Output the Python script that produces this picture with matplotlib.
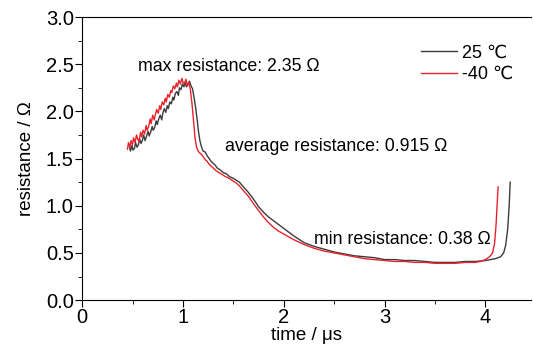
import matplotlib
matplotlib.use("Agg")
import matplotlib.pyplot as plt
from matplotlib.ticker import MultipleLocator

plt.rcParams['font.family'] = ['Liberation Sans', 'DejaVu Sans']

# 25 degC trace
t_25 = [0.47, 0.48, 0.495, 0.505, 0.52, 0.53, 0.545, 0.56, 0.57, 0.585, 0.60, 0.61, 0.625,
        0.64, 0.655, 0.665, 0.68, 0.695, 0.705, 0.72, 0.735, 0.745, 0.76, 0.775, 0.79, 0.80,
        0.815, 0.83, 0.845, 0.855, 0.87, 0.885, 0.90, 0.91, 0.925, 0.94, 0.955, 0.965, 0.98,
        0.995, 1.01, 1.02, 1.035, 1.05, 1.065, 1.08, 1.095, 1.11, 1.125, 1.14, 1.155, 1.17,
        1.185, 1.20, 1.22, 1.24, 1.26, 1.28, 1.30, 1.32, 1.34, 1.37, 1.40, 1.43, 1.46, 1.50,
        1.53, 1.56, 1.60, 1.65, 1.70, 1.75, 1.80, 1.85, 1.90, 1.95, 2.00, 2.05, 2.10, 2.20,
        2.30, 2.40, 2.50, 2.60, 2.65, 2.70, 2.80, 2.90, 2.95, 3.00, 3.10, 3.20, 3.30, 3.40,
        3.50, 3.60, 3.70, 3.80, 3.90, 4.00, 4.05, 4.10, 4.15, 4.18, 4.20, 4.22, 4.235, 4.245]
r_25 = [1.62, 1.58, 1.64, 1.59, 1.61, 1.67, 1.62, 1.65, 1.71, 1.66, 1.70, 1.75, 1.69, 1.74,
        1.79, 1.74, 1.78, 1.84, 1.80, 1.83, 1.90, 1.86, 1.92, 1.96, 1.91, 1.98, 2.03, 1.99,
        2.06, 2.03, 2.10, 2.08, 2.15, 2.12, 2.19, 2.21, 2.17, 2.25, 2.23, 2.29, 2.26, 2.31,
        2.26, 2.29, 2.32, 2.27, 2.24, 2.15, 2.05, 1.92, 1.78, 1.68, 1.62, 1.58, 1.57, 1.53,
        1.50, 1.47, 1.45, 1.43, 1.40, 1.38, 1.35, 1.34, 1.31, 1.29, 1.27, 1.25, 1.20, 1.14,
        1.07, 0.99, 0.93, 0.88, 0.84, 0.80, 0.76, 0.72, 0.68, 0.61, 0.57, 0.54, 0.51, 0.49,
        0.48, 0.47, 0.46, 0.45, 0.44, 0.43, 0.43, 0.42, 0.42, 0.41, 0.40, 0.40, 0.40, 0.41,
        0.41, 0.42, 0.43, 0.44, 0.46, 0.50, 0.58, 0.75, 1.00, 1.25]

# -40 degC trace
t_m40 = [0.45, 0.46, 0.475, 0.485, 0.50, 0.51, 0.525, 0.54, 0.55, 0.565, 0.58, 0.59, 0.605,
         0.62, 0.635, 0.645, 0.66, 0.675, 0.685, 0.70, 0.715, 0.725, 0.74, 0.755, 0.77, 0.78,
         0.795, 0.81, 0.825, 0.835, 0.85, 0.865, 0.88, 0.89, 0.905, 0.92, 0.935, 0.945, 0.96,
         0.975, 0.99, 1.00, 1.015, 1.03, 1.045, 1.06, 1.075, 1.09, 1.105, 1.12, 1.135, 1.15,
         1.165, 1.18, 1.20, 1.22, 1.24, 1.26, 1.28, 1.30, 1.33, 1.36, 1.39, 1.42, 1.46, 1.50,
         1.53, 1.56, 1.60, 1.65, 1.70, 1.75, 1.80, 1.85, 1.90, 1.95, 2.00, 2.05, 2.10, 2.20,
         2.30, 2.40, 2.50, 2.60, 2.70, 2.80, 2.90, 3.00, 3.10, 3.20, 3.30, 3.40, 3.50, 3.60,
         3.70, 3.80, 3.90, 3.95, 4.00, 4.04, 4.07, 4.09, 4.105, 4.115, 4.125]
r_m40 = [1.60, 1.67, 1.62, 1.69, 1.65, 1.72, 1.67, 1.75, 1.71, 1.68, 1.78, 1.73, 1.80, 1.76,
         1.85, 1.80, 1.84, 1.92, 1.87, 1.96, 1.91, 1.96, 2.02, 1.98, 2.06, 2.02, 2.10, 2.07,
         2.14, 2.10, 2.18, 2.15, 2.22, 2.20, 2.27, 2.24, 2.30, 2.26, 2.33, 2.29, 2.35, 2.31,
         2.29, 2.34, 2.27, 2.31, 2.22, 2.08, 1.90, 1.72, 1.62, 1.58, 1.56, 1.55, 1.52, 1.49,
         1.47, 1.44, 1.42, 1.40, 1.37, 1.35, 1.33, 1.31, 1.29, 1.26, 1.24, 1.21, 1.16, 1.10,
         1.02, 0.95, 0.88, 0.82, 0.77, 0.73, 0.70, 0.67, 0.64, 0.59, 0.55, 0.52, 0.50, 0.48,
         0.46, 0.44, 0.43, 0.42, 0.41, 0.41, 0.40, 0.40, 0.39, 0.39, 0.39, 0.40, 0.40, 0.41,
         0.43, 0.46, 0.50, 0.60, 0.80, 1.00, 1.20]

labels = ['25 \u2103', '-40 \u2103']
notes = [('max resistance: 2.35 \u03a9', 0.55, 2.48),
         ('average resistance: 0.915 \u03a9', 1.42, 1.63),
         ('min resistance: 0.38 \u03a9', 2.30, 0.64)]

fig = plt.figure(figsize=(5.33, 3.47), dpi=100)
ax = fig.add_axes([0.154, 0.135, 0.842, 0.816])

ax.plot(t_25, r_25, color='#3c3c3c', lw=1.0, label=labels[0])
ax.plot(t_m40, r_m40, color='#e8232b', lw=1.0, label=labels[1])

for txt, x, y in notes:
    ax.text(x, y, txt, fontsize=12.8, va='center', ha='left')

ax.set_xlim(0, 4.45)
ax.set_ylim(0, 3.0)
ax.xaxis.set_major_locator(MultipleLocator(1))
ax.xaxis.set_minor_locator(MultipleLocator(0.5))
ax.yaxis.set_major_locator(MultipleLocator(0.5))
ax.yaxis.set_minor_locator(MultipleLocator(0.25))
ax.yaxis.set_major_formatter(plt.FormatStrFormatter('%.1f'))
ax.tick_params(which='both', direction='out', labelsize=14.5, pad=1)
ax.tick_params(which='major', length=5)
ax.tick_params(which='minor', length=3)
ax.spines['right'].set_visible(False)

ax.set_xlabel('time / \u03bcs', fontsize=13.5, labelpad=0)
ax.set_ylabel('resistance / \u03a9', fontsize=13.5, labelpad=8)

ax.legend(loc='upper left', bbox_to_anchor=(0.735, 0.935), frameon=False, fontsize=13,
          handlelength=2.0, handletextpad=0.3, labelspacing=0.25, borderpad=0)

fig.savefig('out.png', dpi=100)
